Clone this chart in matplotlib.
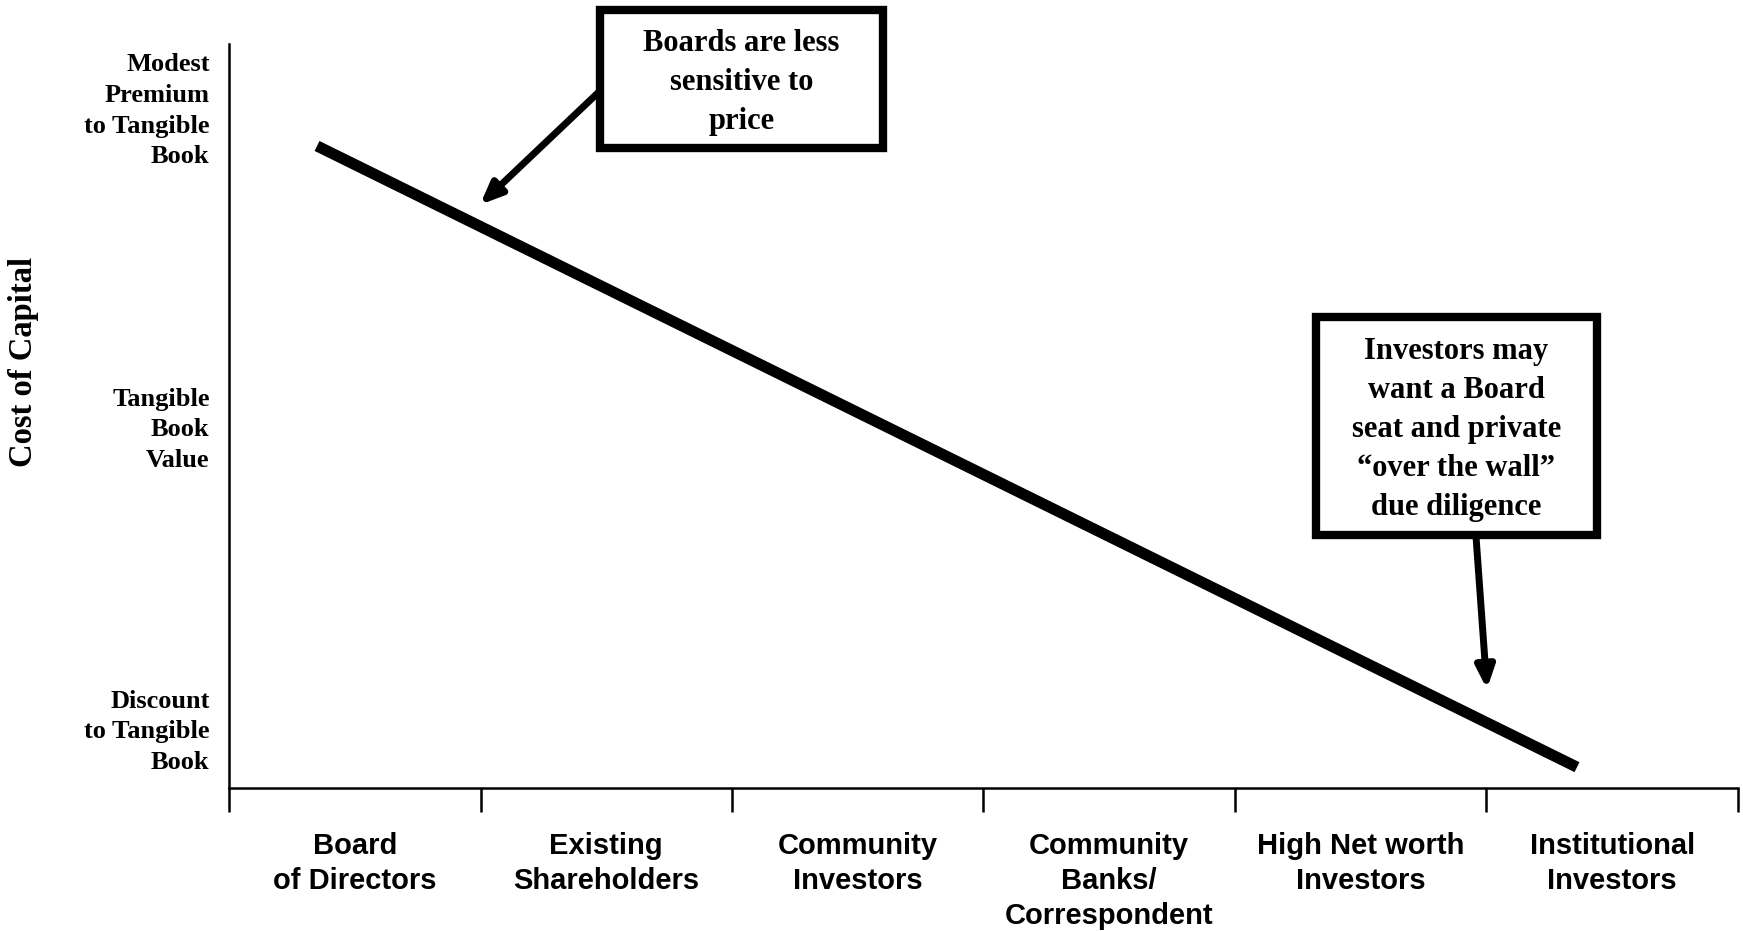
import matplotlib
matplotlib.use("Agg")
import matplotlib.pyplot as plt
from matplotlib.patches import Rectangle

# investor groups along the x axis, one bin each
groups = ["Board\nof Directors", "Existing\nShareholders", "Community\nInvestors",
          "Community\nBanks/\nCorrespondent", "High Net worth\nInvestors",
          "Institutional\nInvestors"]

# cost of capital levels on the y axis
level_pos = [8.4, 49.0, 91.9]
level_labels = ["Discount\nto Tangible\nBook", "Tangible\nBook\nValue",
                "Modest\nPremium\nto Tangible\nBook"]

# trend line: cost of capital falls as the investor base widens
trend_x = [0.35, 5.36]
trend_y = [86.3, 2.8]

note_boards = "Boards are less\nsensitive to\nprice"
note_investors = "Investors may\nwant a Board\nseat and private\n\u201cover the wall\u201d\ndue diligence"

serif = "Liberation Serif"
sans = "Liberation Sans"

fig = plt.figure(figsize=(17.43, 9.31), dpi=100)
ax = fig.add_axes([0.1314, 0.1536, 0.8657, 0.7991])
ax.set_xlim(0, len(groups))
ax.set_ylim(0, 100)

ax.plot(trend_x, trend_y, color="black", lw=8, solid_capstyle="butt")

for side in ["top", "right"]:
    ax.spines[side].set_visible(False)
for side in ["left", "bottom"]:
    ax.spines[side].set_linewidth(1.8)

# bin edges as ticks, group names centred in each bin
ax.set_xticks(range(len(groups) + 1))
ax.set_xticklabels([])
ax.tick_params(axis="x", which="major", length=17, width=1.8, direction="out")
ax.set_xticks([i + 0.5 for i in range(len(groups))], minor=True)
ax.set_xticklabels(groups, minor=True, fontsize=21, fontweight="bold",
                   family=sans, linespacing=1.31)
ax.tick_params(axis="x", which="minor", length=0, pad=32)

ax.set_yticks(level_pos)
ax.set_yticklabels(level_labels, fontsize=19, fontweight="bold", family=serif,
                   linespacing=1.43, multialignment="right")
ax.tick_params(axis="y", length=0, pad=14)

fig.text(24 / 1743, 1 - 362 / 931, "Cost of Capital", rotation=90,
         ha="center", va="center", fontsize=23.5, fontweight="bold", family=serif)

# callout boxes
boxes = [
    (1.475, 86.0, 1.125, 18.6, note_boards),
    (4.322, 34.0, 1.117, 29.3, note_investors),
]
for bx, by, bw, bh, txt in boxes:
    ax.add_patch(Rectangle((bx, by), bw, bh, fill=True, facecolor="white",
                           edgecolor="black", lw=6, clip_on=False, zorder=5))
    ax.text(bx + bw / 2, by + bh / 2 - 0.45, txt, ha="center", va="center",
            fontsize=22, fontweight="bold", family=serif, linespacing=1.45,
            zorder=6, clip_on=False)

arrow_style = dict(arrowstyle="-|>,head_length=1.3,head_width=0.55",
                   color="black", lw=5, shrinkA=0, shrinkB=0)
ax.annotate("", xy=(0.998, 78.4), xytext=(1.475, 93.7),
            arrowprops=arrow_style, annotation_clip=False)
ax.annotate("", xy=(5.002, 13.3), xytext=(4.958, 34.0),
            arrowprops=arrow_style, annotation_clip=False)

fig.savefig("out.png", dpi=100, facecolor="white")
